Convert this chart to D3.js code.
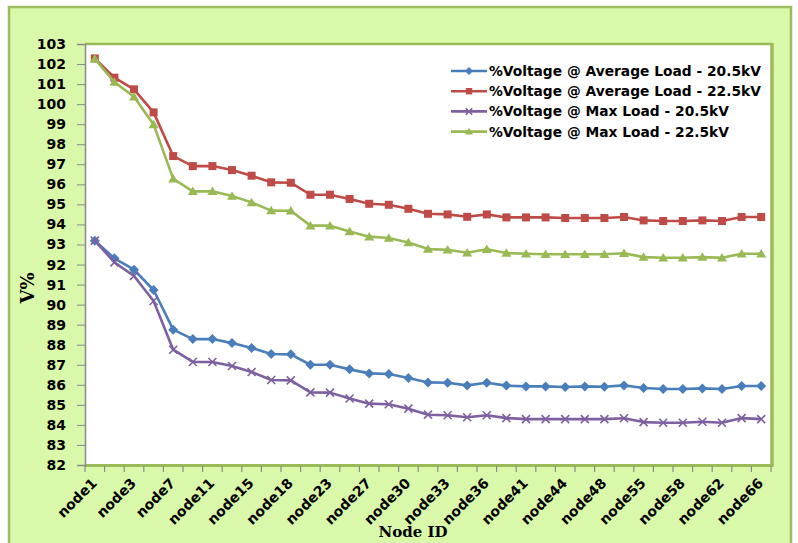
<!DOCTYPE html>
<html>
<head>
<meta charset="utf-8">
<script src="https://cdn.jsdelivr.net/npm/d3@7"></script>
<style>
  html, body { margin: 0; padding: 0; background: #ffffff; }
  svg { display: block; }
</style>
</head>
<body>
<svg id="chart" width="798" height="543"></svg>
<script>
const categories = ["node1","node2","node3","node5","node7","node9","node11","node13","node15","node17",
  "node18","node21","node23","node25","node27","node29","node30","node32","node33","node35",
  "node36","node38","node41","node42","node44","node46","node48","node51","node55","node57",
  "node58","node60","node62","node64","node66"];
const labeledCategories = ["node1","node3","node7","node11","node15","node18","node23","node27","node30",
  "node33","node36","node41","node44","node48","node55","node58","node62","node66"];

const avg205 = [93.19,92.31,91.74,90.73,88.75,88.28,88.28,88.08,87.84,87.54,
  87.52,87.0,87.0,86.77,86.57,86.54,86.34,86.12,86.1,85.97,
  86.1,85.96,85.92,85.92,85.89,85.92,85.9,85.97,85.84,85.79,
  85.79,85.82,85.79,85.94,85.94];
const avg225 = [102.28,101.32,100.74,99.59,97.41,96.91,96.91,96.71,96.43,96.1,
  96.08,95.48,95.48,95.27,95.03,94.98,94.78,94.53,94.5,94.38,
  94.5,94.35,94.35,94.35,94.32,94.32,94.32,94.37,94.2,94.17,
  94.17,94.2,94.17,94.37,94.37];
const max205 = [93.19,92.11,91.43,90.18,87.75,87.14,87.14,86.94,86.64,86.24,
  86.22,85.62,85.61,85.32,85.06,85.03,84.81,84.51,84.48,84.38,
  84.48,84.34,84.29,84.29,84.29,84.29,84.29,84.33,84.14,84.11,
  84.11,84.16,84.11,84.34,84.29];
const max225 = [102.26,101.1,100.37,98.99,96.28,95.65,95.65,95.42,95.1,94.69,
  94.68,93.94,93.94,93.65,93.39,93.32,93.1,92.77,92.74,92.59,
  92.76,92.57,92.54,92.51,92.51,92.51,92.51,92.56,92.37,92.34,
  92.34,92.37,92.34,92.54,92.54];

const seriesNames = ["%Voltage @ Average Load - 20.5kV","%Voltage @ Average Load - 22.5kV",
  "%Voltage @ Max Load - 20.5kV","%Voltage @ Max Load - 22.5kV"];
const seriesColors = ["#4a7ebb","#be4b48","#7d60a0","#98b954"];
const seriesMarkers = ["diamond","square","cross","triangle"];
const yTicks = d3.range(82, 104, 1);
const yTitle = "V%";
const xTitle = "Node ID";

const series = [avg205, avg225, max205, max225].map((vals, i) => ({
  name: seriesNames[i], color: seriesColors[i], marker: seriesMarkers[i], values: vals
}));

const svg = d3.select("#chart");
const plot = { left: 85, right: 771, top: 44, bottom: 465 };

svg.append("rect").attr("x", 9).attr("y", 7).attr("width", 782).attr("height", 545)
  .attr("fill", "#daf8aa").attr("stroke", "#9dbb61").attr("stroke-width", 2.5);

svg.append("rect").attr("x", plot.left).attr("y", plot.top)
  .attr("width", plot.right - plot.left).attr("height", plot.bottom - plot.top)
  .attr("fill", "#ffffff");
svg.append("line").attr("x1", plot.left).attr("x2", plot.right + 1).attr("y1", plot.top).attr("y2", plot.top)
  .attr("stroke", "#9bbb59").attr("stroke-width", 2.5);
svg.append("line").attr("x1", plot.right + 1).attr("x2", plot.right + 1).attr("y1", plot.top - 1).attr("y2", plot.bottom + 1)
  .attr("stroke", "#9bbb59").attr("stroke-width", 3.5);
svg.append("line").attr("x1", plot.left).attr("x2", plot.right + 2.5).attr("y1", plot.bottom + 0.5).attr("y2", plot.bottom + 0.5)
  .attr("stroke", "#9bbb59").attr("stroke-width", 3);

const x = d3.scaleBand().domain(categories).range([plot.left, plot.right]).padding(0);
const y = d3.scaleLinear().domain([82, 103]).range([plot.bottom, plot.top]);

const yAxis = svg.append("g").attr("transform", `translate(${plot.left},0)`)
  .call(d3.axisLeft(y).tickValues(yTicks).tickFormat(d3.format("d")).tickSize(8).tickPadding(11));
yAxis.select(".domain").attr("stroke", "#8a8a8a").attr("stroke-width", 1.5);
yAxis.selectAll(".tick line").attr("stroke", "#8a8a8a");
yAxis.selectAll("text").attr("font-family", "DejaVu Sans").attr("font-weight", "bold")
  .attr("font-size", 14).attr("fill", "#000");

const xg = svg.append("g").attr("transform", `translate(0,${plot.bottom + 1})`);
const bounds = categories.map(c => x(c)).concat([plot.right]);
xg.selectAll("line.tk").data(bounds).enter().append("line")
  .attr("x1", d => d).attr("x2", d => d).attr("y1", 0).attr("y2", 6)
  .attr("stroke", "#8a8a8a").attr("stroke-width", 1.2);
xg.selectAll("text.lbl").data(labeledCategories).enter().append("text")
  .attr("transform", d => `translate(${x(d) + x.bandwidth() / 2 + 3},${18}) rotate(-45)`)
  .attr("text-anchor", "end")
  .attr("font-family", "DejaVu Sans").attr("font-weight", "bold").attr("font-size", 14)
  .attr("fill", "#000").text(d => d);

svg.append("text").attr("x", 413).attr("y", 537).attr("text-anchor", "middle")
  .attr("font-family", "DejaVu Serif").attr("font-weight", "bold").attr("font-size", 15)
  .attr("fill", "#000").text(xTitle);
svg.append("text").attr("transform", "translate(34,288) rotate(-90)").attr("text-anchor", "middle")
  .attr("font-family", "DejaVu Serif").attr("font-weight", "bold").attr("font-size", 18)
  .attr("fill", "#000").text(yTitle);

function drawMarker(g, type, color, size) {
  const s = size;
  if (type === "diamond") {
    g.append("path").attr("d", `M0,${-s}L${s},0L0,${s}L${-s},0Z`).attr("fill", color);
  } else if (type === "square") {
    g.append("rect").attr("x", -s * 0.8).attr("y", -s * 0.8).attr("width", s * 1.6).attr("height", s * 1.6).attr("fill", color);
  } else if (type === "triangle") {
    g.append("path").attr("d", `M0,${-s * 0.95}L${s},${s * 0.75}L${-s},${s * 0.75}Z`).attr("fill", color);
  } else if (type === "cross") {
    const c = s * 0.8;
    g.append("path").attr("d", `M${-c},${-c}L${c},${c}M${-c},${c}L${c},${-c}`)
      .attr("stroke", color).attr("stroke-width", 1.6).attr("fill", "none");
  }
}

const line = d3.line().x((d, i) => x(categories[i]) + x.bandwidth() / 2).y(d => y(d));

series.forEach(s => {
  const g = svg.append("g");
  g.append("path").datum(s.values).attr("d", line)
    .attr("fill", "none").attr("stroke", s.color).attr("stroke-width", 2.6)
    .attr("stroke-linejoin", "round");
  s.values.forEach((v, i) => {
    const mg = g.append("g").attr("transform", `translate(${x(categories[i]) + x.bandwidth() / 2},${y(v)})`);
    drawMarker(mg, s.marker, s.color, 5);
  });
});

const legend = svg.append("g");
series.forEach((s, i) => {
  const ly = 71 + i * 20.2;
  const lg = legend.append("g").attr("transform", `translate(0,${ly})`);
  lg.append("line").attr("x1", 451).attr("x2", 487).attr("y1", 0).attr("y2", 0)
    .attr("stroke", s.color).attr("stroke-width", 2.6);
  const mg = lg.append("g").attr("transform", "translate(469,0)");
  drawMarker(mg, s.marker, s.color, 4);
  lg.append("text").attr("x", 489).attr("y", 5)
    .attr("font-family", "DejaVu Sans").attr("font-weight", "bold").attr("font-size", 13.8)
    .attr("fill", "#000").text(s.name);
});
</script>
</body>
</html>
